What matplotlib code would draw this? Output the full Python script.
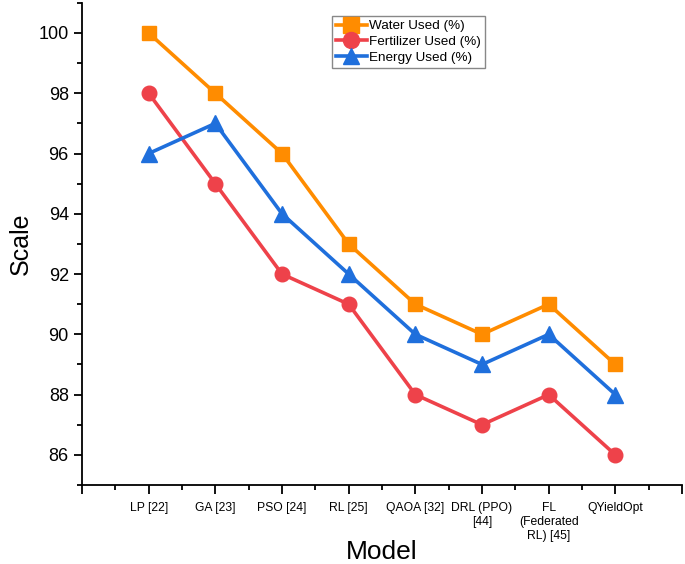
import matplotlib
matplotlib.use("Agg")
import matplotlib.pyplot as plt
from matplotlib.ticker import MultipleLocator

plt.rcParams["font.family"] = ["Liberation Sans", "DejaVu Sans"]

models = ["LP [22]", "GA [23]", "PSO [24]", "RL [25]", "QAOA [32]",
          "DRL (PPO)\n[44]", "FL\n(Federated\nRL) [45]", "QYieldOpt"]
water = [100, 98, 96, 93, 91, 90, 91, 89]
fertilizer = [98, 95, 92, 91, 88, 87, 88, 86]
energy = [96, 97, 94, 92, 90, 89, 90, 88]

x = list(range(1, len(models) + 1))

fig = plt.figure(figsize=(6.85, 5.64), dpi=100)
ax = fig.add_axes([0.1197, 0.140, 0.876, 0.855])

ax.plot(x, water, color="#FF8C00", lw=2.6, marker="s", ms=10, label="Water Used (%)")
ax.plot(x, fertilizer, color="#EE424A", lw=2.6, marker="o", ms=10.5, label="Fertilizer Used (%)")
ax.plot(x, energy, color="#1F6FDC", lw=2.6, marker="^", ms=11, label="Energy Used (%)")

ax.set_xlim(0, 9)
ax.set_ylim(85, 101)
ax.set_xticks(range(0, 10))
ax.set_xticklabels([""] + models + [""], fontsize=8.7)
ax.xaxis.set_minor_locator(MultipleLocator(0.5))
ax.yaxis.set_minor_locator(MultipleLocator(1))
ax.set_yticks(range(86, 101, 2))
ax.tick_params(axis="y", labelsize=13, width=1.3, length=6)
ax.tick_params(axis="x", width=1.3, length=6.5, pad=6)
ax.tick_params(which="minor", width=1.3, length=3.5)

for s in ["top", "right"]:
    ax.spines[s].set_visible(False)
for s in ["left", "bottom"]:
    ax.spines[s].set_linewidth(1.3)

ax.set_xlabel("Model", fontsize=19)
ax.set_ylabel("Scale", fontsize=18)
ax.xaxis.set_label_coords(0.5, -0.115)

leg = ax.legend(loc="upper left", bbox_to_anchor=(0.416, 0.973), fontsize=9.7,
                fancybox=False, edgecolor="#888888", framealpha=1,
                handlelength=2.3, borderpad=0.3, labelspacing=0.25,
                handletextpad=0.15, borderaxespad=0, markerscale=1.1)

fig.savefig("out.png", dpi=100)
